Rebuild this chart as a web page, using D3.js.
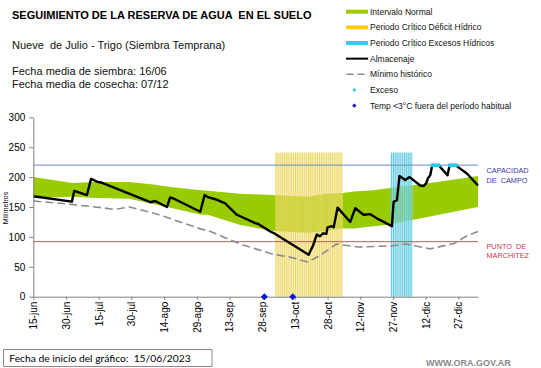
<!DOCTYPE html>
<html><head><meta charset="utf-8">
<script src="https://cdn.jsdelivr.net/npm/d3@7"></script>
<style>
html,body{margin:0;padding:0;background:#fff;}
svg{display:block;font-family:"Liberation Sans",Arial,sans-serif;}
</style></head>
<body>
<svg id="c" width="541" height="368"></svg>
<script>
// ---- data (days since 15/06/2023) ----
const tickDays = [0,15,30,45,60,75,90,105,120,135,150,165,180,195];
const tickLabels = ["15-jun","30-jun","15-jul","30-jul","14-ago","29-ago","13-sep","28-sep","13-oct","28-oct","12-nov","27-nov","12-dic","27-dic"];
const yTicks = [0,50,100,150,200,250,300];

const bandDays = [0,18,29,44,54,64,77,80,95,110,126,134,141,147,156,162,178,193,204];
const bandHigh = [200,190,192,192,188,183,178,177,172,170,167,172,173,176,178,181,188,196,202];
const bandLow  = [165,167,165,164,156,148,137,137,120,110,107,110,114,114,118,120,131,142,150];

const minDays = [0,16,31,37,44,55,65,77,80,95,110,118,126,132,139,149,164,171,182,193,199,204];
const minVals = [160,155,149,146,150,140,128,113,111,88,71,66,58,70,88,83,85,88,80,89,102,109];

const storDays = [0,17.7,18.8,24.6,26.5,29.5,31,53.7,55.9,61.3,62.8,65,76.6,78.6,80.4,83.5,88,93.4,101.8,103,108.7,111,126.3,128.4,130,131.4,132.9,134.4,135,137,137.8,139.6,145.4,147.7,151.5,154.6,157.6,164.5,165.3,166.8,168,170.6,172.6,177.5,179,180.3,181,182.1,183,185.9,190,191,193.6,198.9,204];
const storVals = [168,159,177,170,197,192,191,158,160,150,166,163,142,170,166,163,156,137,123,122,109,105,70,86,104,101,106,105,116,118,116,149,125,148,137,138,131,118,159,161,202,195,200,186,185,190,198,203,220,220,203,220,220,206,186];

const excessDays = [183,184,185,186,191,192,193,194];
const frostDays = [106,119];

const deficitPeriod = [111,141];
const excessPeriod = [164,173];
const periodTop = 241;
const fieldCapacity = 220;
const wiltingPoint = 92;

// ---- scales ----
const svg = d3.select("#c");
const x = d3.scaleLinear().domain([0,204]).range([33.3,478]);
const y = d3.scaleLinear().domain([0,300]).range([296.7,117.3]);

// green band
const bandData = bandDays.map((d,i)=>({d, lo:bandLow[i], hi:bandHigh[i]}));
svg.append("path").datum(bandData)
  .attr("fill","#99cc00")
  .attr("d", d3.area().x(p=>x(p.d)).y0(p=>y(p.lo)).y1(p=>y(p.hi)));

// critical periods
function period(range, fillC, lineC, op){
  const g = svg.append("g");
  const days = d3.range(range[0], range[1]+1);
  g.selectAll("rect").data(days).join("rect")
    .attr("x", d=>x(d)).attr("width", d=>x(d+1)-x(d))
    .attr("y", y(periodTop)).attr("height", y(0)-y(periodTop))
    .attr("fill", fillC).attr("opacity", op);
  g.selectAll("line").data(days).join("line")
    .attr("x1", d=>x(d)+0.6).attr("x2", d=>x(d)+0.6)
    .attr("y1", y(periodTop)).attr("y2", y(0))
    .attr("stroke", lineC).attr("stroke-width", 0.9).attr("opacity", op);
}
period(deficitPeriod, "#f4e48a", "#e2c830", 0.62);
period(excessPeriod, "#9ee0ee", "#2fb8d8", 0.7);

// reference lines
svg.append("line").attr("x1",x(0)).attr("x2",x(204))
  .attr("y1",y(fieldCapacity)).attr("y2",y(fieldCapacity))
  .attr("stroke","#6a8cc0").attr("stroke-width",1);
svg.append("line").attr("x1",x(0)).attr("x2",x(204))
  .attr("y1",y(wiltingPoint)).attr("y2",y(wiltingPoint))
  .attr("stroke","#b86060").attr("stroke-width",1);

// minimum historic
svg.append("path").datum(minDays.map((d,i)=>[d,minVals[i]]))
  .attr("fill","none").attr("stroke","#8c8c8c").attr("stroke-width",1.6)
  .attr("stroke-dasharray","8,4")
  .attr("d", d3.line().x(p=>x(p[0])).y(p=>y(p[1])));

// storage
svg.append("path").datum(storDays.map((d,i)=>[d,storVals[i]]))
  .attr("fill","none").attr("stroke","#000").attr("stroke-width",2.4)
  .attr("stroke-linejoin","round")
  .attr("d", d3.line().x(p=>x(p[0])).y(p=>y(p[1])));

// excess marks
svg.append("g").selectAll("circle").data(excessDays).join("circle")
  .attr("cx", d=>x(d)).attr("cy", y(fieldCapacity)).attr("r", 2)
  .attr("fill","#33c4e6");

// axes
const ya = svg.append("g").attr("transform",`translate(${x(0)},0)`)
  .call(d3.axisLeft(y).tickValues(yTicks).tickSize(4).tickSizeOuter(0).tickPadding(4));
ya.select(".domain").attr("stroke","#808080");
ya.selectAll(".tick line").attr("stroke","#808080");
ya.selectAll("text").attr("font-size",10).attr("fill","#000").attr("font-family","Liberation Sans, Arial");

const xa = svg.append("g").attr("transform",`translate(0,${y(0)})`)
  .call(d3.axisBottom(x).tickValues(tickDays).tickFormat((d,i)=>tickLabels[i]).tickSize(3).tickSizeOuter(0));
xa.select(".domain").attr("stroke","#808080");
xa.selectAll(".tick line").attr("stroke","#808080");
xa.selectAll("text")
  .attr("font-size",10).attr("fill","#000").attr("font-family","Liberation Sans, Arial")
  .attr("text-anchor","end").attr("transform","translate(0,2) rotate(-90)")
  .attr("x",-3).attr("y",0).attr("dy","0.35em");

// frost diamonds
svg.append("g").selectAll("path").data(frostDays).join("path")
  .attr("transform", d=>`translate(${x(d)},${y(0)}) rotate(45)`)
  .attr("d", d3.symbol(d3.symbolSquare, 24))
  .attr("fill","#0a1ad0");

// y label
svg.append("text").attr("transform","translate(8,208) rotate(-90)")
  .attr("text-anchor","middle").attr("font-size",7).text("Milímetros");

// titles
svg.append("text").attr("x",12).attr("y",19.3).attr("font-size",11).attr("font-weight","bold")
  .text("SEGUIMIENTO DE LA RESERVA DE AGUA  EN EL SUELO").attr("xml:space","preserve");
svg.append("text").attr("x",12).attr("y",48.7).attr("font-size",11).attr("fill","#111")
  .text("Nueve  de Julio - Trigo (Siembra Temprana)").attr("xml:space","preserve");
svg.append("text").attr("x",12).attr("y",75).attr("font-size",11).attr("fill","#111")
  .text("Fecha media de siembra: 16/06");
svg.append("text").attr("x",12).attr("y",87.7).attr("font-size",11).attr("fill","#111")
  .text("Fecha media de cosecha: 07/12");

// legend
const legItems = [
  {t:"Intervalo Normal", k:"bar", c:"#99cc00"},
  {t:"Periodo Crítico Déficit Hídrico", k:"bar", c:"#ffcc11"},
  {t:"Periodo Crítico Excesos Hídricos", k:"bar", c:"#33ccee"},
  {t:"Almacenaje", k:"line", c:"#000"},
  {t:"Mínimo histórico", k:"dash", c:"#8c8c8c"},
  {t:"Exceso", k:"dot", c:"#33c4e6"},
  {t:"Temp <3°C fuera del período habitual", k:"diamond", c:"#0a1ad0"}
];
const lg = svg.append("g");
legItems.forEach((it,i)=>{
  const cy = 11.7 + i*15.65;
  if(it.k==="bar") lg.append("rect").attr("x",346).attr("y",cy-2).attr("width",22).attr("height",4).attr("fill",it.c);
  if(it.k==="line") lg.append("line").attr("x1",346).attr("x2",368).attr("y1",cy).attr("y2",cy).attr("stroke",it.c).attr("stroke-width",2);
  if(it.k==="dash") lg.append("line").attr("x1",346.5).attr("x2",367).attr("y1",cy).attr("y2",cy).attr("stroke",it.c).attr("stroke-width",1.6).attr("stroke-dasharray","7,4");
  if(it.k==="dot") lg.append("circle").attr("cx",354.3).attr("cy",cy).attr("r",1.6).attr("fill",it.c);
  if(it.k==="diamond") lg.append("path").attr("transform",`translate(354.3,${cy}) rotate(45)`).attr("d",d3.symbol(d3.symbolSquare,9)).attr("fill",it.c);
  lg.append("text").attr("x",370).attr("y",cy).attr("dy","0.35em").attr("font-size",8.5).attr("fill","#111").text(it.t);
});

// right annotations
const ann = [
  {t:"CAPACIDAD", y:173.3, c:"#3a3aa8"},
  {t:"DE  CAMPO", y:182.7, c:"#3a3aa8"},
  {t:"PUNTO  DE", y:249.3, c:"#c83a4a"},
  {t:"MARCHITEZ", y:258, c:"#c83a4a"}
];
ann.forEach(a=>svg.append("text").attr("x",486.5).attr("y",a.y).attr("font-size",7.3)
  .attr("fill",a.c).attr("xml:space","preserve").text(a.t));

// footer
svg.append("rect").attr("x",3.5).attr("y",349.5).attr("width",208.5).attr("height",17)
  .attr("fill","#fff").attr("stroke","#9b8585").attr("stroke-width",1);
svg.append("text").attr("x",9.3).attr("y",361.5).attr("font-size",10.3)
  .attr("font-family","Lato, sans-serif").attr("xml:space","preserve")
  .text("Fecha de inicio del gráfico:  15/06/2023");
svg.append("text").attr("x",426).attr("y",366).attr("font-size",9).attr("font-weight","bold")
  .attr("fill","#8a8a8a").text("WWW.ORA.GOV.AR");
</script>
</body></html>
